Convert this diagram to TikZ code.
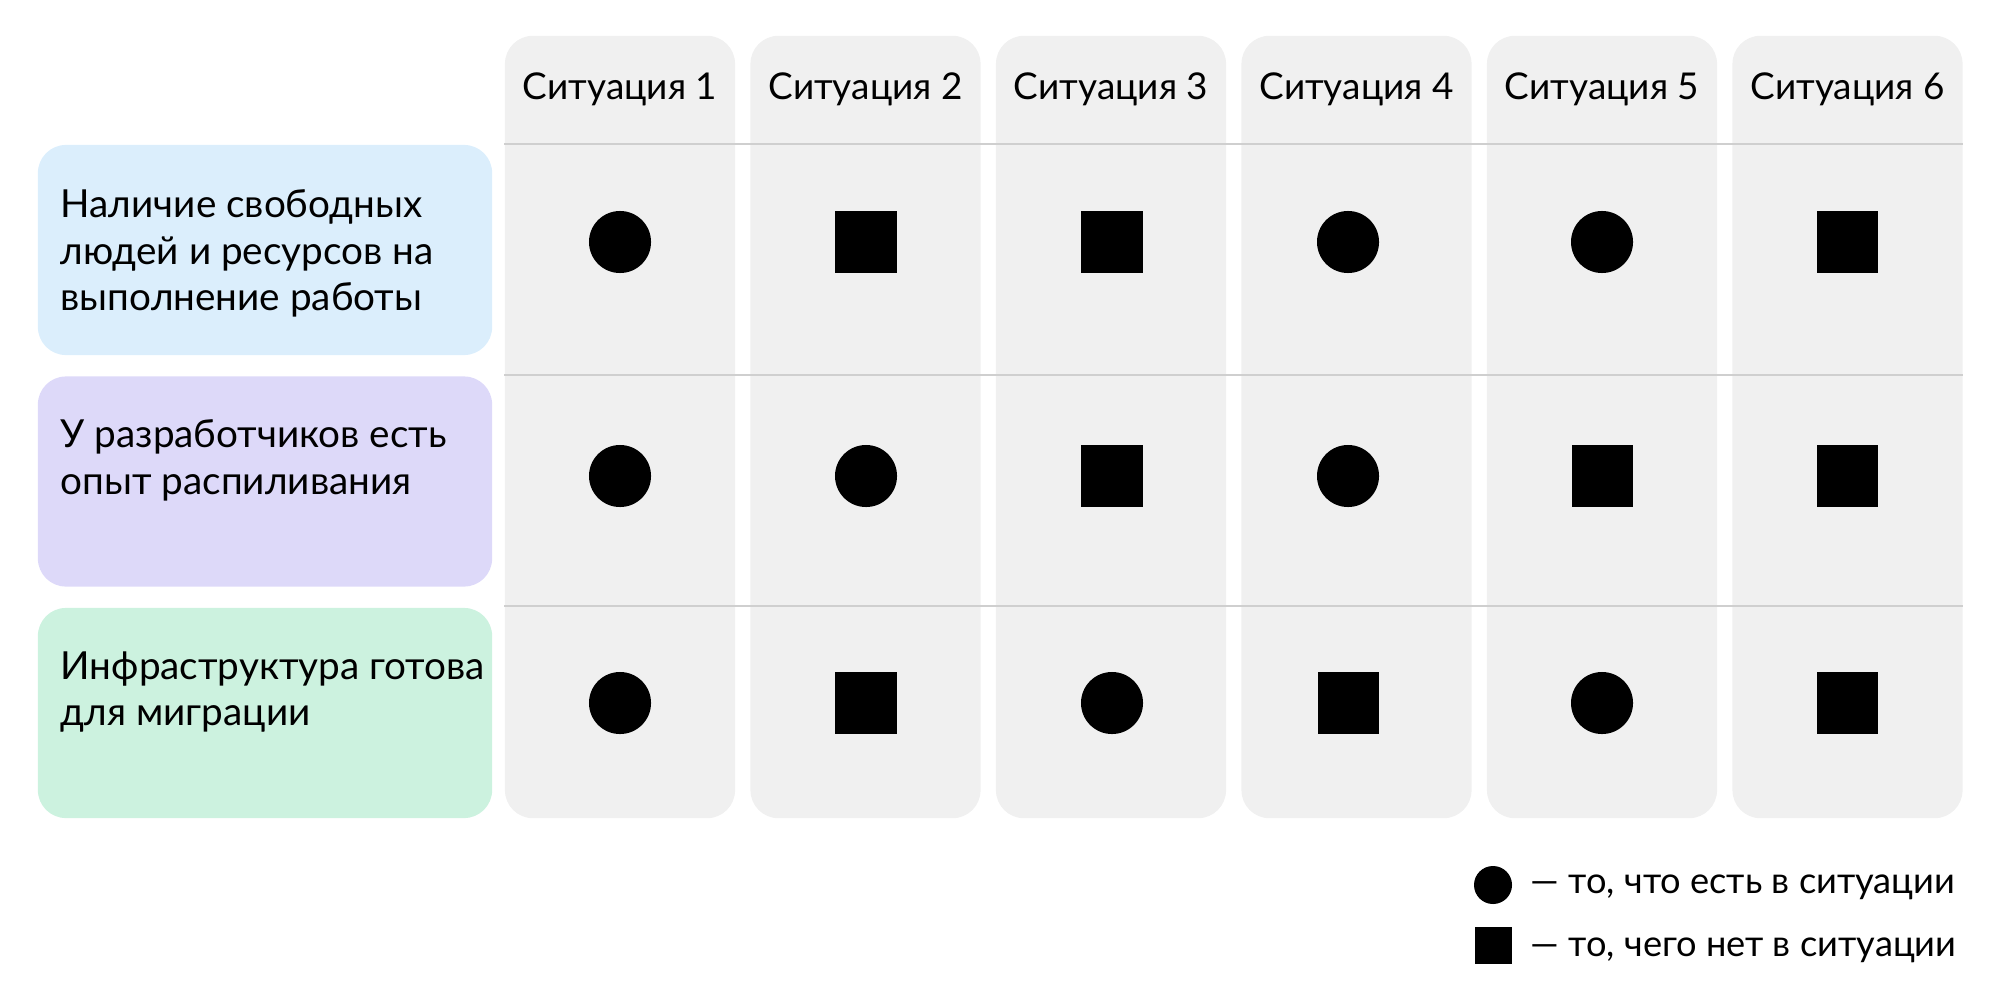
\documentclass[tikz,border=0pt]{standalone}
\usepackage{fontspec}
\setmainfont{Lato}
\usetikzlibrary{positioning}
\definecolor{colgray}{HTML}{F0F0F0}
\definecolor{linegray}{HTML}{CFCFCF}
\definecolor{rowblue}{HTML}{DBEEFC}
\definecolor{rowlilac}{HTML}{DDD9F9}
\definecolor{rowmint}{HTML}{CCF2DF}
\tikzset{%
	colbox/.style={rectangle, rounded corners=2.8mm, fill=colgray, minimum width=2.3cm, minimum height=7.82cm, inner sep=0pt},
	rowbox/.style={rectangle, rounded corners=2.8mm, minimum width=4.54cm, minimum height=2.1cm, inner sep=0pt},
	rowtext/.style={anchor=north west, align=left, inner sep=0pt, font=\fontsize{11pt}{13.2pt}\selectfont},
	headtext/.style={font=\fontsize{10.5pt}{13pt}\selectfont},
	sepline/.style={draw=linegray, line width=0.4pt},
	present/.style={circle, fill=black, minimum size=6.2mm, inner sep=0pt},
	absent/.style={rectangle, fill=black, minimum size=6.1mm, inner sep=0pt},
	legtext/.style={anchor=west, inner sep=0pt, font=\fontsize{10.3pt}{13pt}\selectfont}
}

\begin{document}
\begin{tikzpicture}[x=0.01cm, y=-0.01cm]
		\useasboundingbox (0,0) rectangle (2000,1000);
		
		% columns
		\foreach \i in {1,...,6}
			\node[colbox] (c\i) at ({620+245.5*(\i-1)}, 427) {};
		\foreach \i in {1,...,6}
			\node[headtext] (h\i) at ({620+245.5*(\i-1)}, 89) {Ситуация \i};
		
		% separators
		\coordinate (l1) at (0,144);
		\coordinate (l2) at (0,375);
		\coordinate (l3) at (0,606);
		\foreach \l in {l1,l2,l3}
			\draw[sepline] (c1.west |- \l) -- (c6.east |- \l);
		
		% rows
		\node[rowbox, fill=rowblue] (r1) at (265,250) {};
		\node[rowbox, fill=rowlilac] (r2) at (265,481.5) {};
		\node[rowbox, fill=rowmint] (r3) at (265,713) {};
		\node[rowtext] (t1) at (60,189) {Наличие свободных\\людей и ресурсов на\\выполнение работы};
		\node[rowtext] (t2) at (60,419) {У разработчиков есть\\опыт распиливания};
		\node[rowtext] (t3) at (60,651) {Инфраструктура готова\\для миграции};
		
		% markers (x of each column)
		\def\mx{{620,866,1112,1348,1602,1847}}
		\foreach \s [count=\i] in {present,absent,absent,present,present,absent}
			\node[\s] (m1\i) at ({\mx[\i-1]}, 242) {};
		\foreach \s [count=\i] in {present,present,absent,present,absent,absent}
			\node[\s] (m2\i) at ({\mx[\i-1]}, 476) {};
		\foreach \s [count=\i] in {present,absent,present,absent,present,absent}
			\node[\s] (m3\i) at ({\mx[\i-1]}, 703) {};
		
		% legend
		\node[present, minimum size=3.8mm] (lc) at (1493,885) {};
		\node[absent, minimum size=3.7mm] (ls) at (1493,945) {};
		\node[legtext] (lct) at (1530,887) {— то, что есть в ситуации};
		\node[legtext] (lst) at (1530,950) {— то, чего нет в ситуации};
	\end{tikzpicture}
\end{document}
